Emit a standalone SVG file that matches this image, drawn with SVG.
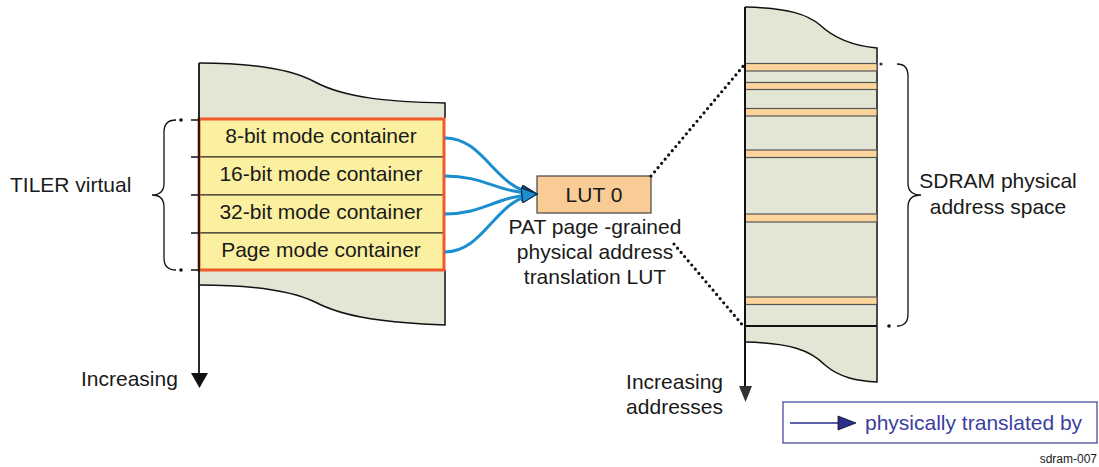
<svg xmlns="http://www.w3.org/2000/svg" width="1099" height="467" viewBox="0 0 1099 467">
<style>
text{font-family:"Liberation Sans",Arial,sans-serif;fill:#1a1a1a}
.lbl{font-size:21px}
.gray{fill:#e3e5d5;stroke:none}
.edge{fill:none;stroke:#111;stroke-width:1.5}
.row{fill:#faf0a0;stroke:#222;stroke-width:1}
.band{fill:#fcd59c;stroke:#555;stroke-width:1.2}
.blue{fill:none;stroke:#1b8ecf;stroke-width:3}
.dots{fill:none;stroke:#111;stroke-width:3.2;stroke-linecap:round;stroke-dasharray:0 5.5}
.brace{fill:none;stroke:#111;stroke-width:1.3}
</style>
<defs>
<marker id="ah" viewBox="0 0 10 10" refX="10" refY="5" markerUnits="userSpaceOnUse" markerWidth="18" markerHeight="15" orient="auto">
<path d="M0,0 L10,5 L0,10 z" fill="#1b8ecf" stroke="#0d2a45" stroke-width="0.7"/>
</marker>
</defs>

<g id="tiler-column">
<path class="gray" d="M199,63 C250,63 290,68 315,82 C345,98 390,102 445,103 L445,118 L199,118 Z"/>
<path class="edge" d="M199,63 C250,63 290,68 315,82 C345,98 390,102 445,103 L445,118"/>
<path class="gray" d="M199,270 L445,270 L445,325 C390,323 345,318 315,302 C290,290 250,285 199,285 Z"/>
<path class="edge" d="M199,285 C250,285 290,290 315,302 C345,318 390,323 445,325 L445,270"/>
</g>

<g id="containers">
<rect class="row" x="199" y="119" width="245" height="38"/>
<rect class="row" x="199" y="157" width="245" height="38"/>
<rect class="row" x="199" y="195" width="245" height="38"/>
<rect class="row" x="199" y="233" width="245" height="37"/>
<rect x="199" y="119" width="245" height="151" fill="none" stroke="#ef5a2a" stroke-width="3"/>
<text class="lbl" x="321" y="143" text-anchor="middle">8-bit mode container</text>
<text class="lbl" x="321" y="181" text-anchor="middle">16-bit mode container</text>
<text class="lbl" x="321" y="219" text-anchor="middle">32-bit mode container</text>
<text class="lbl" x="321" y="257" text-anchor="middle">Page mode container</text>
</g>

<g id="tiler-label">
<line x1="191" y1="120" x2="199" y2="120" stroke="#111" stroke-width="1.5"/>
<line x1="191" y1="157" x2="199" y2="157" stroke="#111" stroke-width="1.5"/>
<line x1="191" y1="195" x2="199" y2="195" stroke="#111" stroke-width="1.5"/>
<line x1="191" y1="233" x2="199" y2="233" stroke="#111" stroke-width="1.5"/>
<line x1="191" y1="270" x2="199" y2="270" stroke="#111" stroke-width="1.5"/>
<circle cx="181" cy="120" r="1.8" fill="#111"/>
<circle cx="181" cy="270" r="1.8" fill="#111"/>
<path class="brace" d="M176,120 Q164,120 164,132 L164,183 Q164,195 152,195 Q164,195 164,207 L164,258 Q164,270 176,270"/>
<text class="lbl" x="10" y="192">TILER virtual</text>
</g>

<g id="increasing-left">
<line x1="199" y1="63" x2="199" y2="374" stroke="#111" stroke-width="1.8"/>
<polygon points="191,373 208,373 199.5,388" fill="#111"/>
<text class="lbl" x="81" y="386">Increasing</text>
</g>

<g id="lut">
<rect x="537" y="176" width="114" height="37" fill="#f9cc95" stroke="#444" stroke-width="1.2"/>
<text class="lbl" x="594" y="202" text-anchor="middle">LUT 0</text>
<text class="lbl" x="595" y="234" text-anchor="middle">PAT page -grained</text>
<text class="lbl" x="595" y="259" text-anchor="middle">physical address</text>
<text class="lbl" x="595" y="284" text-anchor="middle">translation LUT</text>
</g>

<g id="sdram-column">
<path class="gray" d="M745,7 C790,8 808,15 820,25 C836,40 855,46 877,48 L877,326 L745,326 Z"/>
<path class="edge" d="M745,7 C790,8 808,15 820,25 C836,40 855,46 877,48 L877,326"/>
<path class="gray" d="M745,326 L877,326 L877,382 C858,381 840,378 825,365 C810,350 790,343 745,342 Z"/>
<path class="edge" d="M745,342 C790,343 810,350 825,365 C840,378 858,381 877,382 L877,326"/>
<rect class="band" x="745" y="63.5" width="132" height="7.5"/>
<rect class="band" x="745" y="82.5" width="132" height="7"/>
<rect class="band" x="745" y="108.5" width="132" height="7.5"/>
<rect class="band" x="745" y="150" width="132" height="7.5"/>
<rect class="band" x="745" y="214" width="132" height="8"/>
<rect class="band" x="745" y="297" width="132" height="7.5"/>
<line x1="745" y1="326" x2="877" y2="326" stroke="#111" stroke-width="2"/>
</g>

<g id="increasing-right">
<line x1="745" y1="7" x2="745" y2="388" stroke="#111" stroke-width="2"/>
<polygon points="739,386 752,386 745.5,402" fill="#333"/>
<text class="lbl" x="723" y="389" text-anchor="end">Increasing</text>
<text class="lbl" x="723" y="414" text-anchor="end">addresses</text>
</g>

<g id="sdram-label">
<circle cx="881" cy="64" r="1.6" fill="#333"/>
<circle cx="889" cy="326" r="1.8" fill="#111"/>
<path class="brace" d="M897,64 Q908,64 908,76 L908,183 Q908,195 921,195 Q908,195 908,207 L908,314 Q908,326 897,326"/>
<text class="lbl" x="998" y="188" text-anchor="middle">SDRAM physical</text>
<text class="lbl" x="998" y="214" text-anchor="middle">address space</text>
</g>

<g id="connectors">
<path class="blue" d="M445,138 C485,138 495,190 537,194" marker-end="url(#ah)"/>
<path class="blue" d="M445,176 C485,176 495,192 537,194" marker-end="url(#ah)"/>
<path class="blue" d="M445,214 C485,214 495,196 537,194" marker-end="url(#ah)"/>
<path class="blue" d="M445,252 C485,252 495,198 537,194" marker-end="url(#ah)"/>
<path class="dots" d="M651,176 L745,64"/>
<path class="dots" d="M674,244 L745,328"/>
</g>

<g id="legend">
<rect x="783" y="402" width="314" height="41" fill="#fff" stroke="#3a3f9a" stroke-width="1.2"/>
<line x1="790" y1="423" x2="840" y2="423" stroke="#2a2d8a" stroke-width="1.5"/>
<polygon points="838,416 856,423 838,430" fill="#2a2d8a" stroke="#111" stroke-width="0.8"/>
<text class="lbl" x="865" y="430" style="fill:#3b3f9f">physically translated by</text>
</g>

<text x="1097" y="463" text-anchor="end" style="font-size:12px">sdram-007</text>
</svg>
